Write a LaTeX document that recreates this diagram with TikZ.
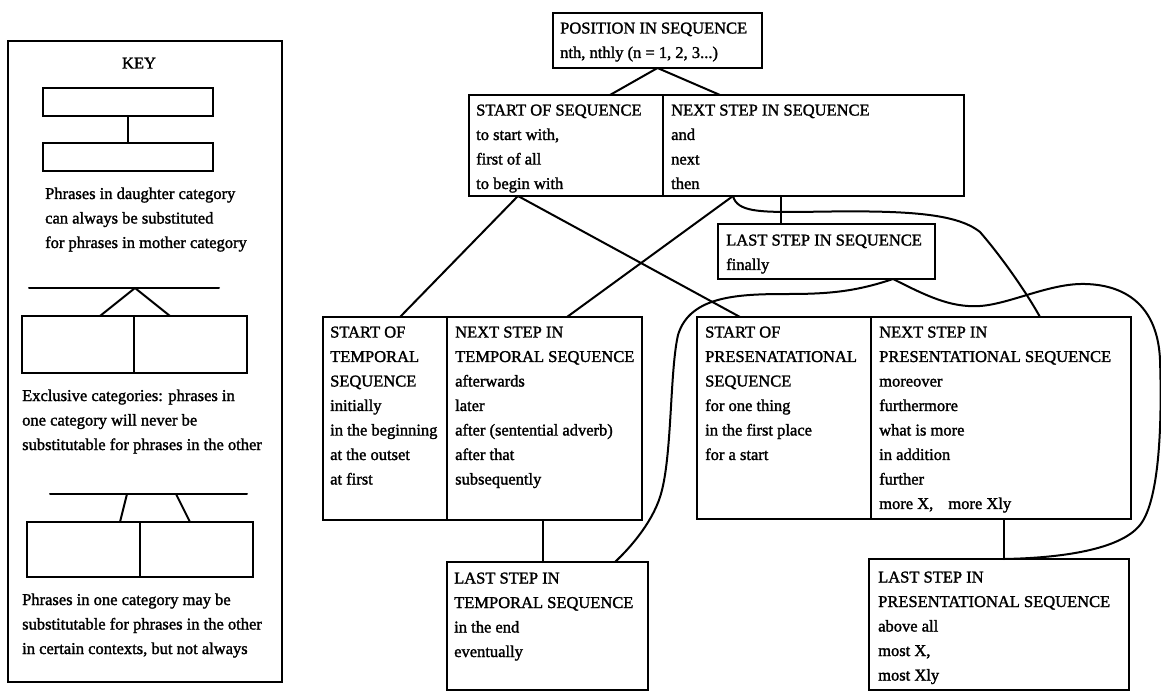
\documentclass[tikz,border=0pt]{standalone}
\usepackage{fontspec}
\setmainfont{Liberation Serif}[BoldFont={Liberation Serif}, BoldFeatures={FakeBold=1.6}]
\usetikzlibrary{calc}
\begin{document}
\begin{tikzpicture}[x=1pt,y=-1pt,
  box/.style={draw, line width=2pt, inner sep=0pt, outer sep=0pt, anchor=north west},
  txt/.style={anchor=base west, inner sep=0pt, font=\fontsize{16.5}{24.5}\selectfont\bfseries},
  conn/.style={line width=2pt, line cap=round, line join=round}]
\fill[white] (0,0) rectangle (1161,692);
\useasboundingbox (0,0) rectangle (1161,692);
\newcommand{\lines}[1]{\begin{tabular}[t]{@{}l@{}}#1\end{tabular}}

% ---------- KEY panel ----------
\node[box, minimum width=274pt, minimum height=641pt] (kp) at (8,41) {};
\node[txt, anchor=base] (ktitle) at (139,68.5) {KEY};
\node[box, minimum width=170pt, minimum height=28pt] (k1) at (43,88) {};
\node[box, minimum width=170pt, minimum height=28pt] (k2) at (43,143) {};
\draw[conn] (k1.south) -- (k2.north);
\node[txt] (kt1) at (45,199) {\lines{Phrases in daughter category\\can always be substituted\\for phrases in mother category}};

\coordinate (m1l) at (29,288);
\coordinate (m1r) at (219,288);
\coordinate (m1a) at (135,288);
\node[box, minimum width=112pt, minimum height=57pt] (k3a) at (22,316) {};
\node[box, minimum width=113pt, minimum height=57pt] (k3b) at (134,316) {};
\draw[conn] (m1l) -- (m1r);
\draw[conn] (m1a) -- ($(k3a.north west)+(78,0)$);
\draw[conn] (m1a) -- ($(k3b.north west)+(36,0)$);
\node[txt] (kt2) at (22,401) {\lines{Exclusive categories: phrases in\\one category will never be\\substitutable for phrases in the other}};

\coordinate (m2l) at (50,494);
\coordinate (m2r) at (247,494);
\coordinate (m2a) at (127,494);
\coordinate (m2b) at (176,494);
\node[box, minimum width=113pt, minimum height=55pt] (k4a) at (27,522) {};
\node[box, minimum width=113pt, minimum height=55pt] (k4b) at (140,522) {};
\draw[conn] (m2l) -- (m2r);
\draw[conn] (m2a) -- ($(k4a.north west)+(93,0)$);
\draw[conn] (m2b) -- ($(k4b.north west)+(50,0)$);
\node[txt] (kt3) at (22,605) {\lines{Phrases in one category may be\\substitutable for phrases in the other\\in certain contexts, but not always}};

% ---------- main boxes ----------
\node[box, minimum width=209pt, minimum height=55pt] (pos) at (553,13) {};
\node[box, minimum width=194pt, minimum height=101pt] (ss) at (469,95) {};
\node[box, minimum width=301pt, minimum height=101pt] (ns) at (663,95) {};
\node[box, minimum width=217pt, minimum height=55pt] (ls) at (718,224) {};
\node[box, minimum width=124pt, minimum height=203pt] (st) at (323,317) {};
\node[box, minimum width=195pt, minimum height=203pt] (nt) at (447,317) {};
\node[box, minimum width=174pt, minimum height=202pt] (sp) at (697,317) {};
\node[box, minimum width=260pt, minimum height=202pt] (np) at (871,317) {};
\node[box, minimum width=201pt, minimum height=128pt] (lt) at (447,562) {};
\node[box, minimum width=260pt, minimum height=131pt] (lp) at (869,559) {};

% ---------- texts ----------
\node[txt] (post) at (560,33.5) {\lines{POSITION IN SEQUENCE\\nth, nthly (n = 1, 2, 3...)}};
\node[txt] (sst) at (476,115.5) {\lines{START OF SEQUENCE\\to start with,\\first of all\\to begin with}};
\node[txt] (nst) at (671,115.5) {\lines{NEXT STEP IN SEQUENCE\\and\\next\\then}};
\node[txt] (lst) at (726,245.5) {\lines{LAST STEP IN SEQUENCE\\finally}};
\node[txt] (stt) at (330,337.5) {\lines{START OF\\TEMPORAL\\SEQUENCE\\initially\\in the beginning\\at the outset\\at first}};
\node[txt] (ntt) at (455,337.5) {\lines{NEXT STEP IN\\TEMPORAL SEQUENCE\\afterwards\\later\\after (sentential adverb)\\after that\\subsequently}};
\node[txt] (spt) at (705,337.5) {\lines{START OF\\PRESENATATIONAL\\SEQUENCE\\for one thing\\in the first place\\for a start}};
\node[txt] (npt) at (879,337.5) {\lines{NEXT STEP IN\\PRESENTATIONAL SEQUENCE\\moreover\\furthermore\\what is more\\in addition\\further\\more X,\hspace{11pt} more Xly}};
\node[txt] (ltt) at (454,583.5) {\lines{LAST STEP IN\\TEMPORAL SEQUENCE\\in the end\\eventually}};
\node[txt] (lpt) at (878,582.5) {\lines{LAST STEP IN\\PRESENTATIONAL SEQUENCE\\above all\\most X,\\most Xly}};

% ---------- connectors ----------
\draw[conn] (pos.south) -- ($(ss.north west)+(141,0)$);
\draw[conn] (pos.south) -- ($(ns.north west)+(57,0)$);
\draw[conn] ($(ss.south west)+(49,0)$) -- ($(st.north west)+(77,0)$);
\draw[conn] ($(ss.south west)+(49,0)$) -- ($(sp.north west)+(43,0)$);
\draw[conn] ($(ns.south west)+(70,0)$) -- ($(nt.north west)+(120,0)$);
\draw[conn] ($(ns.south west)+(118,0)$) -- ($(ls.north west)+(63,0)$);
\draw[conn] ($(ns.south west)+(70,0)$) .. controls (737,212) and (760,212) .. (800,212)
  .. controls (900,210) and (955,212) .. (980,232)
  .. controls (1000,255) and (1025,290) .. ($(np.north west)+(169,0)$);
\draw[conn] ($(ls.south west)+(175,0)$) .. controls (925,295) and (950,308) .. (980,306)
  .. controls (1010,304) and (1050,283) .. (1085,284)
  .. controls (1130,285) and (1158,310) .. (1160,360)
  .. controls (1162,420) and (1160,500) .. (1140,525)
  .. controls (1120,550) and (1060,558) .. ($(lp.north west)+(135,0)$);
\draw[conn] ($(ls.south west)+(175,0)$) .. controls (860,290) and (835,294) .. (790,294)
  .. controls (740,294) and (690,295) .. (678,335)
  .. controls (670,370) and (672,450) .. (662,490)
  .. controls (655,520) and (630,548) .. ($(lt.north west)+(168,0)$);
\draw[conn] ($(nt.south west)+(96,0)$) -- ($(lt.north west)+(96,0)$);
\draw[conn] ($(np.south west)+(133,0)$) -- ($(lp.north west)+(135,0)$);
\end{tikzpicture}
\end{document}
